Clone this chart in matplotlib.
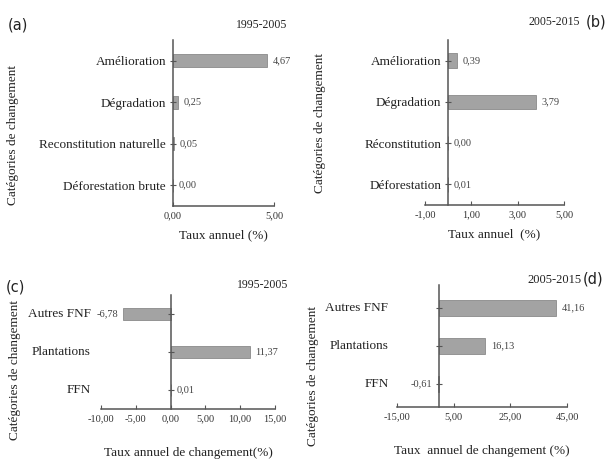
import matplotlib
matplotlib.use("Agg")
import matplotlib.pyplot as plt
from matplotlib.ticker import FuncFormatter

plt.rcParams['font.family'] = ['Liberation Serif', 'DejaVu Serif']

# (a) 1995-2005
cats_a = ["Déforestation brute", "Reconstitution naturelle", "Dégradation", "Amélioration"]
vals_a = [0.00, 0.05, 0.25, 4.67]
# (b) 2005-2015
cats_b = ["Déforestation", "Réconstitution", "Dégradation", "Amélioration"]
vals_b = [0.01, 0.00, 3.79, 0.39]
# (c) 1995-2005
cats_c = ["FFN", "Plantations", "Autres FNF"]
vals_c = [0.01, 11.37, -6.78]
# (d) 2005-2015
cats_d = ["FFN", "Plantations", "Autres FNF"]
vals_d = [-0.61, 16.13, 41.16]

ticks_a = [0, 5]
ticks_b = [-1, 1, 3, 5]
ticks_c = [-10, -5, 0, 5, 10, 15]
ticks_d = [-15, 5, 25, 45]

BAR = "#a3a3a3"
EDGE = "#8a8a8a"
AX = "#555555"


def fr(v):
    return f"{v:.2f}".replace(".", ",")


fig = plt.figure(figsize=(6.16, 4.59), dpi=100)
W, H = 616, 459


def make_ax(l, t, r, b):
    return fig.add_axes([l / W, 1 - b / H, (r - l) / W, (b - t) / H])


def panel(ax, cats, vals, ticks, xlim, ylim, h, labels_at_spine, xlabel, lbl_pad, xlpad):
    y = list(range(len(cats)))
    bars = ax.barh(y, vals, height=h, color=BAR, edgecolor=EDGE, linewidth=0.6)
    ax.bar_label(bars, labels=[fr(v) for v in vals], padding=4, fontsize=7.5, color="#444444")
    ax.set_xlim(*xlim)
    ax.set_ylim(*ylim)
    for s in ["top", "right"]:
        ax.spines[s].set_visible(False)
    ax.spines["left"].set_position(("data", 0))
    for s in ["left", "bottom"]:
        ax.spines[s].set_color(AX)
        ax.spines[s].set_linewidth(1.1)
    ax.set_xticks(ticks)
    ax.xaxis.set_major_formatter(FuncFormatter(lambda v, p: fr(v)))
    ax.tick_params(axis="x", direction="in", length=3, color=AX, labelsize=7.5,
                   labelcolor="#333333", pad=4)
    ax.set_yticks(y)
    if labels_at_spine:
        ax.set_yticklabels(cats)
        ax.tick_params(axis="y", direction="inout", length=4, color=AX, labelsize=9.5,
                       labelcolor="#222222", pad=3)
    else:
        ax.set_yticklabels([])
        ax.tick_params(axis="y", direction="inout", length=4, color=AX)
        for yi, c in zip(y, cats):
            ax.text(-lbl_pad, yi, c, transform=ax.get_yaxis_transform(), ha="right",
                    va="center", fontsize=9.5, color="#222222")
    ax.set_xlabel(xlabel, fontsize=9.5, color="#222222", labelpad=xlpad)
    ax.patch.set_alpha(0)


ax_a = make_ax(173, 40, 274, 206)
panel(ax_a, cats_a, vals_a, ticks_a, (0, 5), (-0.5, 3.5), 0.32, True,
      "Taux annuel (%)", 0, 6)
ax_b = make_ax(425, 40, 564, 205)
panel(ax_b, cats_b, vals_b, ticks_b, (-1, 5), (-0.5, 3.5), 0.35, True,
      "Taux annuel  (%)", 0, 6)
ax_c = make_ax(101, 295, 275, 409)
panel(ax_c, cats_c, vals_c, ticks_c, (-10, 15), (-0.5, 2.5), 0.32, False,
      "Taux annuel de changement(%)", 0.06, 17)
ax_d = make_ax(397, 285, 567, 407)
panel(ax_d, cats_d, vals_d, ticks_d, (-15, 45), (-0.6, 2.6), 0.42, False,
      "Taux  annuel de changement (%)", 0.05, 17)

# y axis titles
for x, yc in [(13, 135), (320, 123), (15, 370), (313, 376)]:
    fig.text(x / W, 1 - yc / H, "Catégories de changement", rotation=90, ha="center",
             va="center", fontsize=9.5, color="#222222")

# period titles
fig.text(262 / W, 1 - 25 / H, "1995-2005", ha="center", va="center", fontsize=8.5, color="#222222")
fig.text(554 / W, 1 - 22 / H, "2005-2015", ha="center", va="center", fontsize=8.5, color="#222222")
fig.text(263 / W, 1 - 285 / H, "1995-2005", ha="center", va="center", fontsize=8.5, color="#222222")
fig.text(554 / W, 1 - 280 / H, "2005-2015", ha="center", va="center", fontsize=9, color="#222222")

# panel letters
for x, yc, s in [(18, 25, "(a)"), (596, 22, "(b)"), (15, 287, "(c)"), (593, 279, "(d)")]:
    fig.text(x / W, 1 - yc / H, s, ha="center", va="center", fontsize=10.5,
             family="DejaVu Sans", color="#222222")

fig.savefig("out.png", dpi=100)
